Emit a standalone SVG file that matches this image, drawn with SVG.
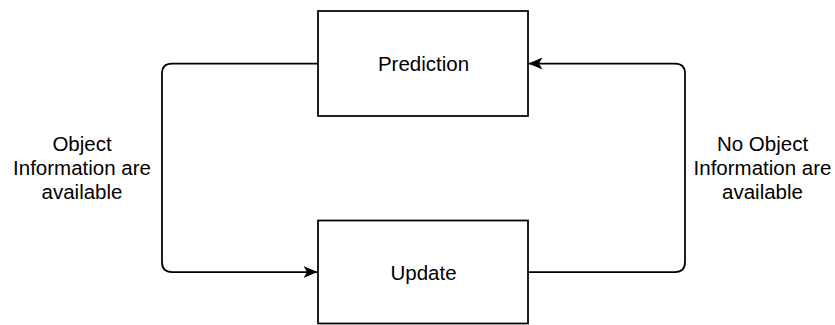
<svg xmlns="http://www.w3.org/2000/svg" width="835" height="325" viewBox="0 0 835 325">
  <style>
    .box { fill: #ffffff; stroke: #000000; stroke-width: 1.75; }
    .edge { fill: none; stroke: #000000; stroke-width: 1.75; }
    .lbl { font-family: "Liberation Sans", Arial, sans-serif; font-size: 20.5px; fill: #000000; text-anchor: middle; }
  </style>
  <defs>
    <marker id="arrow" viewBox="0 0 14 12" refX="13.5" refY="6" markerWidth="14" markerHeight="12" orient="auto" markerUnits="userSpaceOnUse">
      <path d="M0,0 L14,6 L0,12 L3.5,6 Z" fill="#000000"/>
    </marker>
  </defs>
  <rect width="835" height="325" fill="#ffffff"/>
  <g id="connectors">
    <path class="edge" d="M318,63.5 H172 Q162,63.5 162,73.5 V262 Q162,272 172,272 H317" marker-end="url(#arrow)"/>
    <path class="edge" d="M528,272 H675 Q685,272 685,262 V73.5 Q685,63.5 675,63.5 H529" marker-end="url(#arrow)"/>
  </g>
  <g id="prediction">
    <rect class="box" x="318" y="11" width="210" height="105"/>
    <text class="lbl" x="423.5" y="71">Prediction</text>
  </g>
  <g id="update">
    <rect class="box" x="318" y="220.5" width="210" height="103"/>
    <text class="lbl" x="423.5" y="280">Update</text>
  </g>
  <g id="label-left">
    <text class="lbl" x="82" y="151">Object</text>
    <text class="lbl" x="82" y="175">Information are</text>
    <text class="lbl" x="82" y="199">available</text>
  </g>
  <g id="label-right">
    <text class="lbl" x="762.5" y="151">No Object</text>
    <text class="lbl" x="762.5" y="175">Information are</text>
    <text class="lbl" x="762.5" y="199">available</text>
  </g>
</svg>
